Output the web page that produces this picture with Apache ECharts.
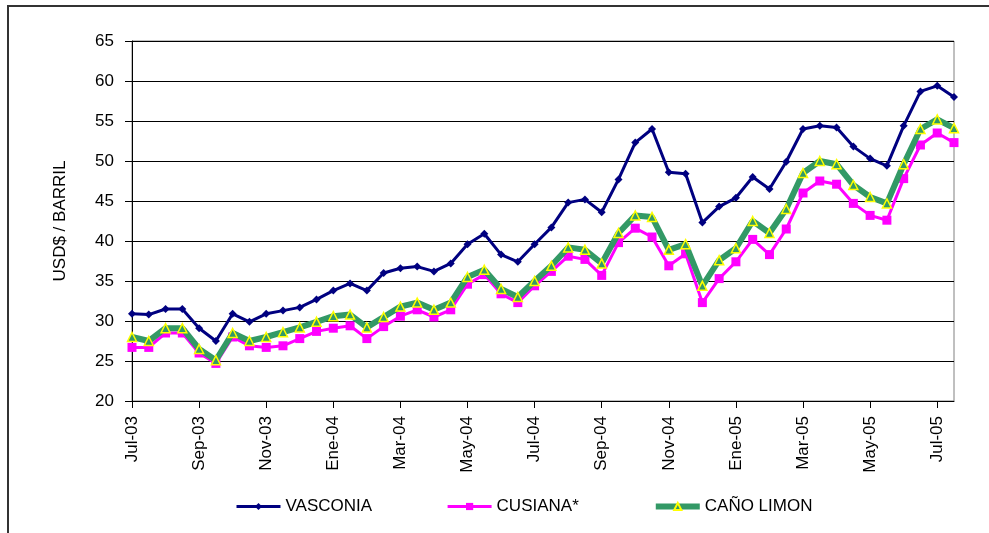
<!DOCTYPE html>
<html>
<head>
<meta charset="utf-8">
<script src="https://cdn.jsdelivr.net/npm/echarts@6/dist/echarts.min.js"></script>
<style>
html,body{margin:0;padding:0;background:#fff;}
#chart{width:989px;height:533px;}
</style>
</head>
<body>
<div id="chart"></div>
<script>
// Months (two observations per month)
const months = ['Jul-03','Ago-03','Sep-03','Oct-03','Nov-03','Dic-03','Ene-04','Feb-04','Mar-04','Abr-04','May-04','Jun-04',
  'Jul-04','Ago-04','Sep-04','Oct-04','Nov-04','Dic-04','Ene-05','Feb-05','Mar-05','Abr-05','May-05','Jun-05','Jul-05'];
const halves = ['1', '15'];
const categories = [];
months.forEach(m => halves.forEach(h => categories.push(h + ' ' + m)));

const seriesNames = ['VASCONIA', 'CUSIANA*', 'CAÑO LIMON'];

const vasconia = [30.9,30.8,31.5,31.5,29.1,27.5,30.9,29.9,30.9,31.3,
  31.7,32.7,33.8,34.7,33.8,36.0,36.6,36.8,36.2,37.2,
  39.6,40.9,38.3,37.4,39.6,41.7,44.8,45.2,43.6,47.7,
  52.3,54.0,48.6,48.4,42.3,44.3,45.4,48.0,46.5,49.9,
  54.0,54.4,54.2,51.8,50.3,49.4,54.4,58.7,59.4,58.0];

const cusiana = [26.7,26.7,28.5,28.5,26.0,24.7,28.0,26.9,26.7,26.9,
  27.8,28.7,29.1,29.4,27.8,29.3,30.6,31.4,30.5,31.4,
  34.6,35.8,33.4,32.3,34.4,36.2,38.1,37.7,35.7,39.8,
  41.6,40.5,36.9,38.4,32.3,35.3,37.4,40.2,38.3,41.5,
  46.0,47.5,47.1,44.7,43.2,42.6,47.8,52.0,53.5,52.3];

const canoLimon = [28.0,27.5,29.1,29.1,26.5,25.1,28.5,27.5,28.0,28.6,
  29.2,29.9,30.6,30.8,29.2,30.5,31.8,32.3,31.4,32.3,
  35.5,36.4,34.0,33.0,35.0,36.9,39.2,38.9,37.2,41.0,
  43.2,43.0,38.9,39.6,34.4,37.6,39.1,42.5,41.0,44.0,
  48.5,50.0,49.6,47.0,45.5,44.7,49.6,54.0,55.2,54.1];

const yMin = 20, yMax = 65, yStep = 5;
const yAxisTitle = 'USD$ / BARRIL';

const FONT = '"Liberation Sans", Arial, sans-serif';
const chart = echarts.init(document.getElementById('chart'), null, {renderer: 'canvas'});

chart.setOption({
  animation: false,
  backgroundColor: '#ffffff',
  textStyle: {fontFamily: FONT, color: '#000'},
  graphic: [{
    type: 'rect', silent: true, z: -10,
    shape: {x: 8, y: 6, width: 1000, height: 600},
    style: {fill: 'none', stroke: '#333333', lineWidth: 2}
  }],
  grid: {
    left: 132, right: 35, top: 41, bottom: 132,
    show: true, borderColor: '#808080', borderWidth: 1, backgroundColor: 'transparent'
  },
  legend: {
    left: 230, top: 493,
    itemWidth: 44, itemHeight: 9, itemGap: 74,
    lineStyle: {width: 'inherit'},
    textStyle: {fontFamily: FONT, fontSize: 17, color: '#000', padding: [0, 0, 0, 0]},
    data: seriesNames
  },
  xAxis: {
    type: 'category',
    data: categories,
    boundaryGap: false,
    axisLine: {lineStyle: {color: '#000', width: 1}},
    axisTick: {show: true, interval: 3, length: 7, lineStyle: {color: '#000'}},
    axisLabel: {
      interval: 3, rotate: 90, margin: 15,
      fontFamily: FONT, fontSize: 17, color: '#000',
      formatter: v => v.split(' ')[1]
    },
    splitLine: {show: false}
  },
  yAxis: {
    type: 'value',
    min: yMin, max: yMax, interval: yStep,
    name: yAxisTitle,
    nameLocation: 'middle',
    nameGap: 63,
    nameRotate: 90,
    nameTextStyle: {fontFamily: FONT, fontSize: 17, color: '#000'},
    axisLine: {show: true, lineStyle: {color: '#000', width: 1}},
    axisTick: {show: true, length: 7, lineStyle: {color: '#000'}},
    axisLabel: {margin: 18, fontFamily: FONT, fontSize: 17, color: '#000'},
    splitLine: {show: true, lineStyle: {color: '#000', width: 1}}
  },
  series: [
    {
      name: seriesNames[0], type: 'line', data: vasconia,
      symbol: 'diamond', symbolSize: 8,
      lineStyle: {color: '#000080', width: 3},
      itemStyle: {color: '#000080'},
      z: 3
    },
    {
      name: seriesNames[1], type: 'line', data: cusiana,
      symbol: 'rect', symbolSize: 9,
      lineStyle: {color: '#FF00FF', width: 3},
      itemStyle: {color: '#FF00FF'},
      z: 4
    },
    {
      name: seriesNames[2], type: 'line', data: canoLimon,
      symbol: 'triangle', symbolSize: 9,
      lineStyle: {color: '#339966', width: 6},
      itemStyle: {color: '#339966', borderColor: '#FFFF00', borderWidth: 1.5},
      z: 5
    }
  ]
});
</script>
</body>
</html>
